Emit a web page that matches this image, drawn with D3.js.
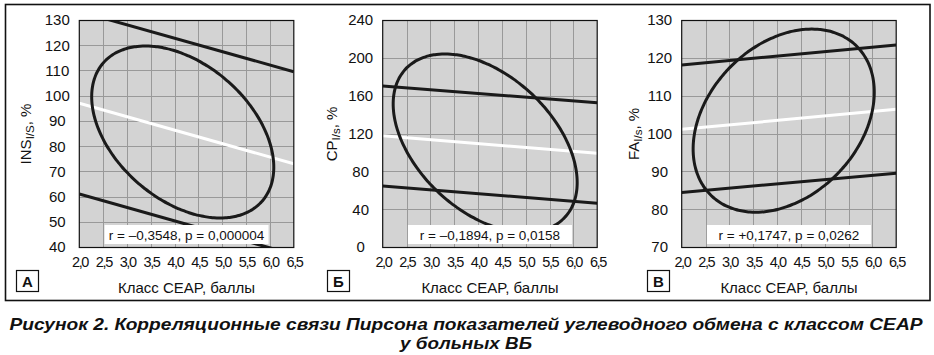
<!DOCTYPE html>
<html><head><meta charset="utf-8">
<script src="https://cdn.jsdelivr.net/npm/d3@7"></script>
<style>
html,body{margin:0;padding:0;background:#fff;}
svg{display:block;font-family:Arial,"Liberation Sans",Helvetica,sans-serif;}
</style></head>
<body><svg id="chart" width="934" height="355"></svg>
<script>
// ---- data ----
const panelLetters = ["А", "Б", "В"];
const yTitleMain = ["INS", "CP", "FA"];
const yTitleSub = ["I/S", "I/s", "I/s"];
const xTicks = [2.0, 2.5, 3.0, 3.5, 4.0, 4.5, 5.0, 5.5, 6.0, 6.5];
const yDomains = [[40, 130], [0, 240], [70, 130]];
const yTicks = [
  [40, 50, 60, 70, 80, 90, 100, 110, 120, 130],
  [0, 40, 80, 120, 160, 200, 240],
  [70, 80, 90, 100, 110, 120, 130]
];
// regression line (white) endpoints: [x, y]
const regLines = [
  [[2.0, 97.0], [6.5, 73.0]],
  [[2.0, 117.5], [6.5, 99.0]],
  [[2.0, 101.1], [6.5, 106.4]]
];
// prediction bands (black)
const upperBands = [
  [[2.0, 133.4], [6.5, 109.5]],
  [[2.0, 170.2], [6.5, 152.6]],
  [[2.0, 118.1], [6.5, 123.4]]
];
const lowerBands = [
  [[2.0, 61.0], [6.5, 37.0]],
  [[2.0, 64.5], [6.5, 46.2]],
  [[2.0, 84.4], [6.5, 89.5]]
];
// ellipses: centre x, centre y, half-range x, half-range y, tilt (correlation)
const ellCx = [4.17, 4.15, 4.14];
const ellCy = [85.6, 109.7, 103.4];
const ellRx = [1.91, 1.93, 1.90];
const ellRy = [34.1, 94.4, 24.2];
const ellRho = [-0.41, -0.44, 0.31];
const statLabels = [
  "r = \u20130,3548, p = 0,000004",
  "r = \u20130,1894, p = 0,0158",
  "r = +0,1747, p = 0,0262"
];
const xTitle = "Класс CEAP, баллы";
const caption1 = "Рисунок 2. Корреляционные связи Пирсона показателей углеводного обмена с классом CEAP";
const caption2 = "у больных ВБ";

// ---- layout ----
const svg = d3.select("#chart");
const plotLefts = [79.3, 382.7, 681.7];
const plotW = 214.5, plotTop = 20, plotBottom = 247;
const letterX = [16, 327, 647];
const yTitleX = [25, 331.7, 633.3];

// outer frame
svg.append("rect").attr("x", 5.5).attr("y", 4.5).attr("width", 924.5).attr("height", 296)
  .attr("fill", "none").attr("stroke", "#111").attr("stroke-width", 1.6);

const fmt = d => d3.format(".1f")(d).replace(".", ",");

panelLetters.forEach((letter, i) => {
  const x = d3.scaleLinear().domain([2.0, 6.5]).range([plotLefts[i], plotLefts[i] + plotW]);
  const y = d3.scaleLinear().domain(yDomains[i]).range([plotBottom, plotTop]);
  const g = svg.append("g");
  const clipId = "clip" + i;
  svg.append("clipPath").attr("id", clipId).append("rect")
    .attr("x", plotLefts[i]).attr("y", plotTop).attr("width", plotW).attr("height", plotBottom - plotTop);

  g.append("rect").attr("x", plotLefts[i]).attr("y", plotTop).attr("width", plotW)
    .attr("height", plotBottom - plotTop).attr("fill", "#d3d3d3");

  // grid
  g.append("g").selectAll("line").data(xTicks.slice(1, -1)).join("line")
    .attr("x1", d => Math.round(x(d)) + 0.5).attr("x2", d => Math.round(x(d)) + 0.5)
    .attr("y1", plotTop).attr("y2", plotBottom).attr("stroke", "#999").attr("stroke-width", 1);
  g.append("g").selectAll("line").data(yTicks[i].slice(1, -1)).join("line")
    .attr("y1", d => Math.round(y(d)) + 0.5).attr("y2", d => Math.round(y(d)) + 0.5)
    .attr("x1", plotLefts[i]).attr("x2", plotLefts[i] + plotW).attr("stroke", "#999").attr("stroke-width", 1);

  const clipped = g.append("g").attr("clip-path", `url(#${clipId})`);
  const line = d3.line().x(d => x(d[0])).y(d => y(d[1]));

  clipped.append("path").attr("d", line(regLines[i])).attr("stroke", "#fff")
    .attr("stroke-width", 3).attr("fill", "none");
  [upperBands[i], lowerBands[i]].forEach(b => {
    clipped.append("path").attr("d", line(b)).attr("stroke", "#1a1a1a")
      .attr("stroke-width", 3).attr("fill", "none");
  });

  // ellipse
  const rho = ellRho[i], s = Math.sqrt(1 - rho * rho);
  const pts = d3.range(0, 361, 2).map(a => {
    const t = a * Math.PI / 180;
    return [ellCx[i] + ellRx[i] * Math.cos(t),
            ellCy[i] + ellRy[i] * (rho * Math.cos(t) + s * Math.sin(t))];
  });
  clipped.append("path").attr("d", line.curve(d3.curveCardinalClosed)(pts.slice(0, -1)))
    .attr("stroke", "#1a1a1a").attr("stroke-width", 3).attr("fill", "none");

  // stats label
  const cx = plotLefts[i] + plotW / 2;
  g.append("rect").attr("x", cx - 82).attr("y", 225).attr("width", 164).attr("height", 19)
    .attr("fill", "#fff");
  g.append("text").attr("x", cx).attr("y", 239.5).attr("text-anchor", "middle")
    .attr("font-size", "13.5px").attr("fill", "#111").text(statLabels[i]);

  // border
  g.append("rect").attr("x", plotLefts[i]).attr("y", plotTop + 0.5).attr("width", plotW)
    .attr("height", plotBottom - plotTop).attr("fill", "none").attr("stroke", "#111").attr("stroke-width", 1.2);

  // axes labels
  g.append("g").selectAll("text").data(xTicks).join("text")
    .attr("x", d => x(d) + 0.7).attr("y", 267).attr("text-anchor", "middle")
    .attr("font-size", "14.5px").attr("letter-spacing", "-1.4px").attr("fill", "#111").text(fmt);
  g.append("g").selectAll("text").data(yTicks[i]).join("text")
    .attr("x", plotLefts[i] - 22).attr("y", d => y(d)).attr("dy", "0.36em").attr("text-anchor", "middle")
    .attr("font-size", "15px").attr("fill", "#111").text(d => d);

  g.append("text").attr("x", cx).attr("y", 292.5).attr("text-anchor", "middle")
    .attr("font-size", "15px").attr("fill", "#111").text(xTitle);

  const yt = g.append("text").attr("transform", `translate(${yTitleX[i] + 5.5},134) rotate(-90)`)
    .attr("text-anchor", "middle").attr("font-size", "15px").attr("fill", "#111");
  yt.append("tspan").text(yTitleMain[i]);
  yt.append("tspan").attr("font-size", "11.5px").attr("dy", "3").text(yTitleSub[i]);
  yt.append("tspan").attr("dy", "-3").text(", %");

  // letter box
  g.append("rect").attr("x", letterX[i] + 0.5).attr("y", 270.5).attr("width", 22).attr("height", 21)
    .attr("fill", "#fff").attr("stroke", "#111").attr("stroke-width", 1.2);
  g.append("text").attr("x", letterX[i] + 11.5).attr("y", 286.5).attr("text-anchor", "middle")
    .attr("font-size", "15px").attr("font-weight", "bold").attr("fill", "#111").text(letter);
});

// caption
svg.append("text").attr("x", 9.5).attr("y", 329.5).attr("font-size", "17px")
  .attr("font-weight", "bold").attr("font-style", "italic").attr("fill", "#111")
  .attr("textLength", 913).attr("lengthAdjust", "spacingAndGlyphs").text(caption1);
svg.append("text").attr("x", 400).attr("y", 348.8).attr("font-size", "17px")
  .attr("font-weight", "bold").attr("font-style", "italic").attr("fill", "#111")
  .attr("textLength", 132).attr("lengthAdjust", "spacingAndGlyphs").text(caption2);
</script></body></html>
